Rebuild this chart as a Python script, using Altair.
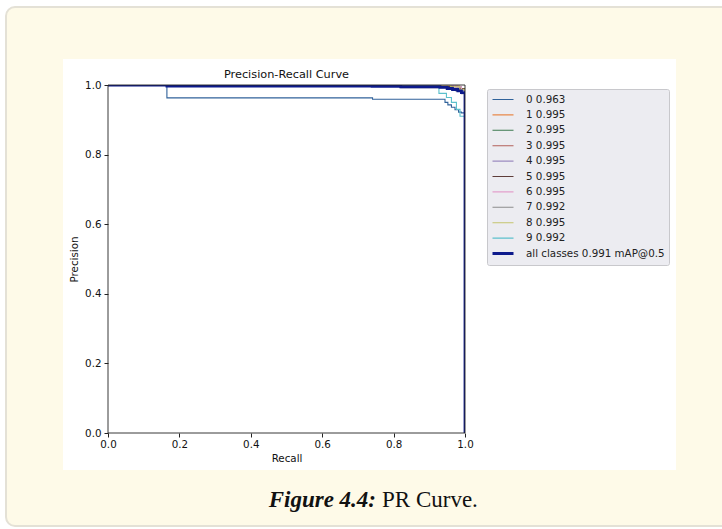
import altair as alt
import pandas as pd

# ---------------- data ----------------
labels = ["0 0.963", "1 0.995", "2 0.995", "3 0.995", "4 0.995", "5 0.995",
          "6 0.995", "7 0.992", "8 0.995", "9 0.992", "all classes 0.991 mAP@0.5"]
colors = ["#30629a", "#e8894a", "#3d7a4f", "#b3615a", "#9d8cc0", "#5e3d3a",
          "#e3a0cc", "#8c8c8c", "#c5c56e", "#5cc0cc", "#0d1a8c"]
widths = [1.1] * 10 + [2.8]

recall_0 = [0, 0.165, 0.741, 0.944, 0.952, 0.962, 0.972, 0.982, 0.99, 1.0]
prec_0 = [1.0, 0.963, 0.959, 0.95, 0.943, 0.936, 0.929, 0.922, 0.92, 0.0]
recall_1 = [0, 0.96, 0.985, 1.0]
prec_1 = [1.0, 0.996, 0.988, 0.0]
recall_2 = [0, 0.97, 0.99, 1.0]
prec_2 = [1.0, 0.995, 0.985, 0.0]
recall_3 = [0, 0.955, 0.98, 1.0]
prec_3 = [1.0, 0.996, 0.99, 0.0]
recall_4 = [0, 0.965, 0.99, 1.0]
prec_4 = [1.0, 0.994, 0.986, 0.0]
recall_5 = [0, 0.95, 0.985, 1.0]
prec_5 = [1.0, 0.996, 0.99, 0.0]
recall_6 = [0, 0.97, 0.99, 1.0]
prec_6 = [1.0, 0.995, 0.987, 0.0]
recall_7 = [0, 0.74, 0.82, 0.95, 0.975, 0.99, 1.0]
prec_7 = [1.0, 0.997, 0.992, 0.988, 0.982, 0.975, 0.0]
recall_8 = [0, 0.96, 0.985, 1.0]
prec_8 = [1.0, 0.995, 0.988, 0.0]
recall_9 = [0, 0.927, 0.948, 0.962, 0.976, 0.986, 1.0]
prec_9 = [1.0, 0.976, 0.964, 0.95, 0.93, 0.91, 0.0]
recall_all = [0, 0.165, 0.74, 0.82, 0.93, 0.95, 0.965, 0.98, 0.99, 1.0]
prec_all = [1.0, 0.997, 0.996, 0.995, 0.993, 0.99, 0.987, 0.983, 0.978, 0.0]

x_ticks = [0.0, 0.2, 0.4, 0.6, 0.8, 1.0]
y_ticks = [0.0, 0.2, 0.4, 0.6, 0.8, 1.0]

series = [(recall_0, prec_0), (recall_1, prec_1), (recall_2, prec_2),
          (recall_3, prec_3), (recall_4, prec_4), (recall_5, prec_5),
          (recall_6, prec_6), (recall_7, prec_7), (recall_8, prec_8),
          (recall_9, prec_9)]

rows = []
for lab, (r, p) in zip(labels[:10], series):
    for i, (rv, pv) in enumerate(zip(r, p)):
        rows.append({"label": lab, "idx": i, "recall": rv, "precision": pv})
df_cls = pd.DataFrame(rows)
df_all = pd.DataFrame({"label": labels[10], "idx": list(range(len(recall_all))),
                       "recall": recall_all, "precision": prec_all})

W, H = 357, 348
PAD_L, PAD_T = 108, 85

# ---------------- decoration (page frame) ----------------
one = pd.DataFrame({"a": [0]})
cream = alt.Chart(one).mark_rect(
    fill="#fefae8", stroke="#e4e1d6", strokeWidth=2, cornerRadius=9
).encode(
    x=alt.value(6 - PAD_L), x2=alt.value(740 - PAD_L),
    y=alt.value(7 - PAD_T), y2=alt.value(526 - PAD_T),
)
white = alt.Chart(one).mark_rect(fill="white").encode(
    x=alt.value(63 - PAD_L), x2=alt.value(676 - PAD_L),
    y=alt.value(59 - PAD_T), y2=alt.value(470 - PAD_T),
)

color_scale = alt.Scale(domain=labels, range=colors)
width_scale = alt.Scale(type="ordinal", domain=labels, range=widths)

x_enc = alt.X("recall:Q", scale=alt.Scale(domain=[0, 1], nice=False),
              axis=alt.Axis(values=x_ticks, format=".1f", title="Recall", zindex=3,
                            labelFlush=False, titlePadding=4))
y_enc = alt.Y("precision:Q", scale=alt.Scale(domain=[0, 1], nice=False),
              axis=alt.Axis(values=y_ticks, format=".1f", title="Precision", zindex=3,
                            labelFlush=False, titlePadding=5, labelPadding=3))

legend = alt.Legend(
    title=None, orient="none", legendX=379, legendY=4,
    fillColor="#ececf1", strokeColor="#c8c8cc", cornerRadius=2,
    padding=4, symbolType="stroke", symbolSize=441, clipHeight=13,
    rowPadding=2.4, labelOffset=11, labelFontSize=10.3, labelFont="DejaVu Sans",
    labelColor="#222222",
)

cls_lines = alt.Chart(df_cls).mark_line(interpolate="step-after", clip=True).encode(
    x=x_enc, y=y_enc,
    color=alt.Color("label:N", scale=color_scale, legend=legend),
    strokeWidth=alt.StrokeWidth("label:N", scale=width_scale, legend=legend),
    order="idx:Q",
)
all_line = alt.Chart(df_all).mark_line(interpolate="step-after", clip=True).encode(
    x=x_enc, y=y_enc,
    color=alt.Color("label:N", scale=color_scale, legend=legend),
    strokeWidth=alt.StrokeWidth("label:N", scale=width_scale, legend=legend),
    order="idx:Q",
)

title_txt = alt.Chart(one).mark_text(
    text="Precision-Recall Curve", font="DejaVu Sans", fontSize=11.3,
    align="center", baseline="alphabetic", color="#111111"
).encode(x=alt.value(W / 2), y=alt.value(-7))

cap1 = alt.Chart(one).mark_text(
    text="Figure 4.4:", font="Liberation Serif", fontSize=23, fontWeight="bold",
    fontStyle="italic", align="right", baseline="alphabetic", color="#111111"
).encode(x=alt.value(376 - PAD_L), y=alt.value(507 - PAD_T))
cap2 = alt.Chart(one).mark_text(
    text="PR Curve.", font="Liberation Serif", fontSize=23,
    align="left", baseline="alphabetic", color="#111111"
).encode(x=alt.value(382 - PAD_L), y=alt.value(507 - PAD_T))

frame = alt.Chart(one).mark_rect(fillOpacity=0, stroke="#222222", strokeWidth=0.9).encode(
    x=alt.value(0), x2=alt.value(W), y=alt.value(0), y2=alt.value(H)
)

chart = alt.layer(cream, white, cls_lines, all_line, frame, title_txt, cap1, cap2).properties(
    width=W, height=H,
    autosize=alt.AutoSizeParams(type="none"),
    padding={"left": PAD_L, "top": PAD_T, "right": 722 - PAD_L - W, "bottom": 529 - PAD_T - H},
    background="white",
).configure_view(
    stroke=None, fill="white"
).configure_axis(
    grid=False, domain=False, tickColor="#222222", tickSize=4, labelColor="#111111",
    labelFont="DejaVu Sans", labelFontSize=10.3, labelPadding=2,
    titleFont="DejaVu Sans", titleFontSize=10.3, titleFontWeight="normal",
    titleColor="#111111",
)

chart.save("out.html", embed_options={"renderer": "svg", "actions": False})
